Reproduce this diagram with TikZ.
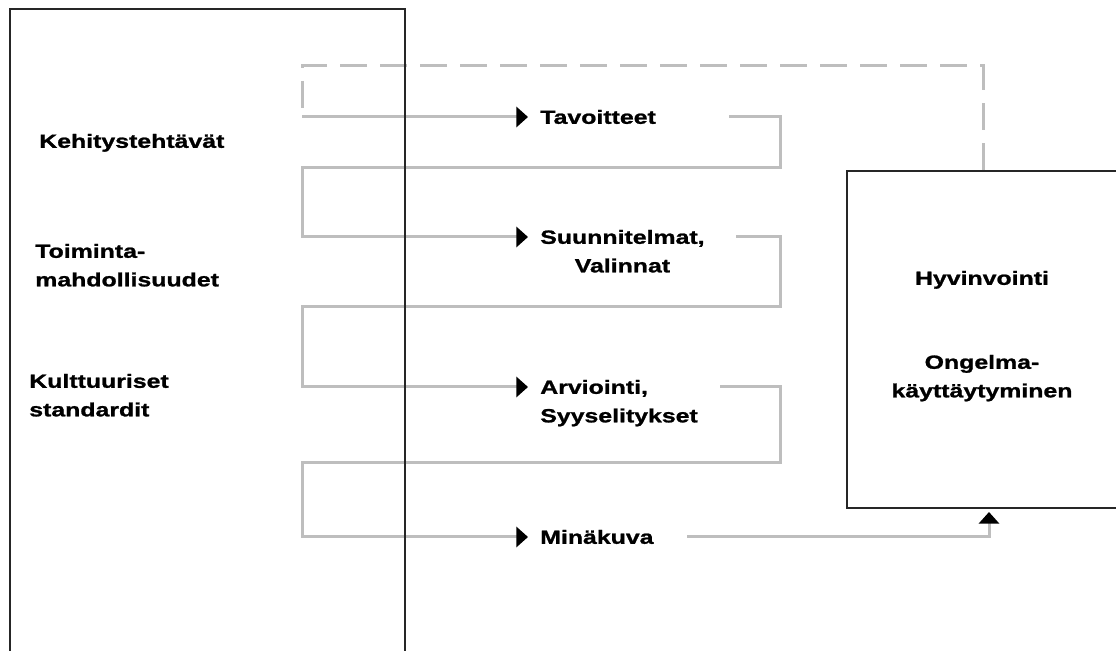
\documentclass[tikz,border=0pt]{standalone}
\usepackage{fontspec}
\setmainfont{Liberation Sans Bold}[FakeStretch=1.3,FakeBold=1.2]
\usetikzlibrary{arrows.meta,positioning}
\definecolor{viiva}{RGB}{190,190,190}
\begin{document}
\begin{tikzpicture}[
  laatikko/.style={draw=black!85,line width=0.05cm,inner sep=0pt,anchor=north west},
  teksti/.style={inner sep=0pt,text height=0.52cm,text depth=0.18cm,font=\fontsize{13.6}{16}\selectfont},
  harmaa/.style={draw=viiva,line width=0.075cm},
  nuoli/.style={-{Triangle[width=0.5cm,length=0.29cm,color=black]},shorten >=0.3cm}
]
\useasboundingbox (0,0) rectangle (27.9,16.275);
\clip (0,0) rectangle (27.9,16.275);
% oikea laatikko
\node[laatikko,minimum width=6.8cm,minimum height=8.425cm] (tulokset) at (21.15,12.025) {};
\node[teksti] (hyvinvointi) at (24.55,9.325) {Hyvinvointi};
\node[teksti] (ongelma) at (24.55,7.225) {Ongelma-};
\node[teksti,below=0cm of ongelma] (kayttaytyminen) {käyttäytyminen};
% vasen sarake
\node[teksti,anchor=west] (kehitys) at (0.975,12.75) {Kehitystehtävät};
\node[teksti,anchor=west] (toiminta) at (0.875,10.0) {Toiminta-};
\node[teksti,below right=0cm and 0cm of toiminta.south west] (mahdollisuudet) {mahdollisuudet};
\node[teksti,anchor=west] (kulttuuriset) at (0.725,6.75) {Kulttuuriset};
\node[teksti,below right=0cm and 0cm of kulttuuriset.south west] (standardit) {standardit};
% keskisarake
\node[teksti,anchor=west] (tavoitteet) at (13.5,13.35) {Tavoitteet};
\node[teksti,anchor=west] (suunnitelmat) at (13.5,10.35) {Suunnitelmat,};
\node[teksti,below=0cm of suunnitelmat] (valinnat) {Valinnat};
\node[teksti,anchor=west] (arviointi) at (13.5,6.6) {Arviointi,};
\node[teksti,below right=0cm and 0cm of arviointi.south west] (syyselitykset) {Syyselitykset};
\node[teksti,anchor=west] (minakuva) at (13.5,2.85) {Minäkuva};
% silmukat
\draw[harmaa,dash pattern=on 0.675cm off 0.325cm] (tulokset.north) |- (7.55,14.625) -- (7.55,0 |- tavoitteet.west);
\draw[harmaa,nuoli] (7.55,0 |- tavoitteet.west) -- (tavoitteet.west);
\foreach\a/\b/\x/\y in {tavoitteet/suunnitelmat/18.225/12.075,suunnitelmat/arviointi/18.4/8.6,arviointi/minakuva/18.0/4.7} {
  \draw[harmaa,nuoli] (\x,0 |- \a.east) -| (19.5,\y) -| (7.55,0 |- \b.west) -- (\b.west);
}
\draw[harmaa,nuoli,shorten >=0.075cm] (17.175,0 |- minakuva.east) -| ([xshift=0.15cm]tulokset.south);
% vasen laatikko
\node[laatikko,minimum width=9.875cm,minimum height=17cm] (konteksti) at (0.225,16.075) {};
\end{tikzpicture}
\end{document}
